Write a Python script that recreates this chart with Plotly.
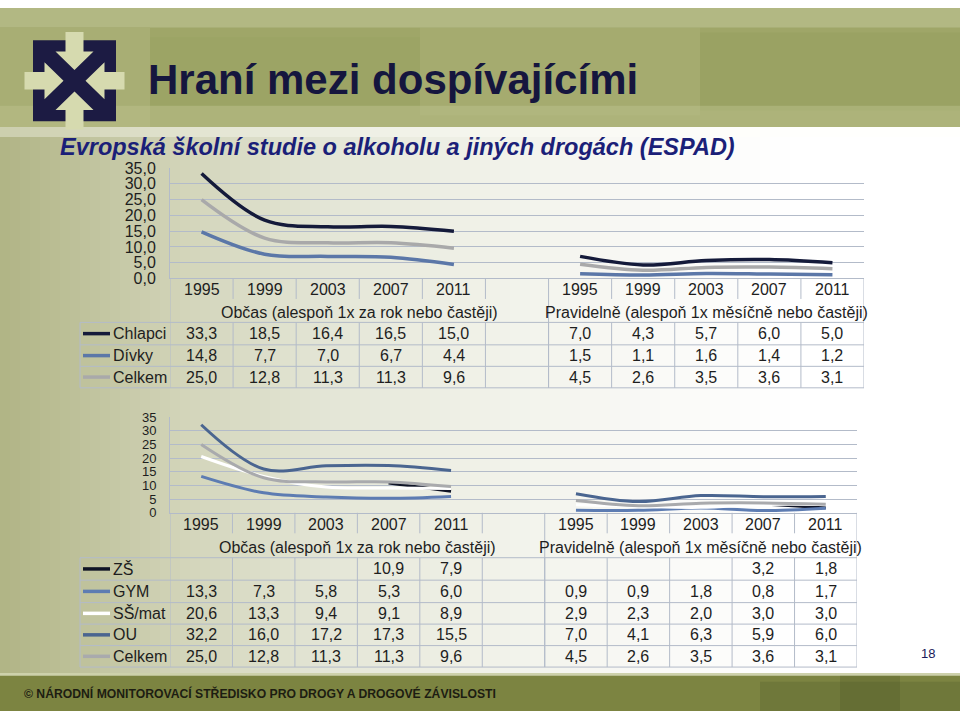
import plotly.graph_objects as go

# ---------------- data ----------------
years = ["1995", "1999", "2003", "2007", "2011"]
groups = ["Občas (alespoň 1x za rok nebo častěji)",
          "Pravidelně (alespoň 1x měsíčně nebo častěji)"]

top_names = ["Chlapci", "Dívky", "Celkem"]
chlapci_obcas = [33.3, 18.5, 16.4, 16.5, 15.0]
chlapci_prav = [7.0, 4.3, 5.7, 6.0, 5.0]
divky_obcas = [14.8, 7.7, 7.0, 6.7, 4.4]
divky_prav = [1.5, 1.1, 1.6, 1.4, 1.2]
celkem_obcas = [25.0, 12.8, 11.3, 11.3, 9.6]
celkem_prav = [4.5, 2.6, 3.5, 3.6, 3.1]

bottom_names = ["ZŠ", "GYM", "SŠ/mat", "OU", "Celkem"]
zs_obcas = [None, None, None, 10.9, 7.9]
zs_prav = [None, None, None, 3.2, 1.8]
gym_obcas = [13.3, 7.3, 5.8, 5.3, 6.0]
gym_prav = [0.9, 0.9, 1.8, 0.8, 1.7]
ssmat_obcas = [20.6, 13.3, 9.4, 9.1, 8.9]
ssmat_prav = [2.9, 2.3, 2.0, 3.0, 3.0]
ou_obcas = [32.2, 16.0, 17.2, 17.3, 15.5]
ou_prav = [7.0, 4.1, 6.3, 5.9, 6.0]
celkem2_obcas = [25.0, 12.8, 11.3, 11.3, 9.6]
celkem2_prav = [4.5, 2.6, 3.5, 3.6, 3.1]

title = "Hraní mezi dospívajícími"
subtitle = "Evropská školní studie o alkoholu a jiných drogách (ESPAD)"
footer = "© NÁRODNÍ MONITOROVACÍ STŘEDISKO PRO DROGY A DROGOVÉ ZÁVISLOSTI"
page_no = "18"

# ---------------- helpers / styles ----------------
W, H = 960, 720
FONT = "Liberation Sans, Arial, sans-serif"
TXT = "#1e1e1e"
GRID = "#b3bbc9"


def px(x):
    return x / W


def py(y):
    return 1 - y / H


cat_labels = years + [""] + years
xpos = list(range(len(cat_labels)))
gap_idx = len(years)


def fmt(v):
    return f"{v:.1f}".replace(".", ",")


def hexmix(c1, c2, t):
    a = [int(c1[i:i + 2], 16) for i in (1, 3, 5)]
    b = [int(c2[i:i + 2], 16) for i in (1, 3, 5)]
    return "#" + "".join(f"{round(a[i] + (b[i] - a[i]) * t):02x}" for i in range(3))


shapes = []
annotations = []


def rect(x0, y0, x1, y1, color, layer="below", line=None):
    shapes.append(dict(type="rect", xref="paper", yref="paper",
                       x0=px(x0), x1=px(x1), y0=py(y1), y1=py(y0),
                       fillcolor=color, line=dict(width=0) if line is None else line,
                       layer=layer))


# ---------------- background ----------------
stops = [(0, "#b0b485"), (80, "#bec19a"), (180, "#d2d4b9"), (320, "#e3e5d5"),
         (480, "#f0f1e8"), (650, "#f9f9f6"), (800, "#ffffff"), (960, "#ffffff")]


def grad(x):
    for (xa, ca), (xb, cb) in zip(stops[:-1], stops[1:]):
        if xa <= x <= xb:
            return hexmix(ca, cb, (x - xa) / (xb - xa) if xb > xa else 0)
    return stops[-1][1]


step = 10
for x in range(0, W, step):
    rect(x, 118, x + step, 684, grad(x + step / 2))
rect(0, 118, 960, 132, "rgba(255,255,250,0.35)")

# header band
rect(0, 0, 960, 122, "#9fa668")
rect(0, 0, 960, 20, "#b2b883")
rect(0, 20, 150, 122, "#a8ae74")
rect(150, 30, 420, 100, "rgba(150,158,95,0.3)")
rect(420, 20, 700, 110, "rgba(185,190,135,0.22)")
rect(700, 25, 960, 105, "rgba(140,150,85,0.25)")
rect(0, 100, 960, 122, "rgba(190,195,145,0.45)")

# footer band
rect(0, 681, 960, 720, "#7c8441")
rect(0, 681, 960, 684, "#cdd1ab")
rect(760, 690, 960, 720, "rgba(90,98,45,0.35)")
rect(840, 684, 900, 720, "rgba(70,78,35,0.25)")

# logo
NAVY = "#1c1b43"
CREAM = "#d6daaf"
rect(33, 33, 116, 116, NAVY)
cx, cy = 74.5, 74.5
arrow = [(-9, -50), (9, -50), (9, -30), (19, -30), (0, -11), (-19, -30), (-9, -30)]
for k in range(4):
    pts = []
    for (dx, dy) in arrow:
        for _ in range(k):
            dx, dy = -dy, dx
        pts.append((cx + dx, cy + dy))
    path = "M " + " L ".join(f"{px(a):.5f},{py(b):.5f}" for a, b in pts) + " Z"
    shapes.append(dict(type="path", xref="paper", yref="paper", path=path,
                       fillcolor=CREAM, line=dict(width=0), layer="below"))

# title texts
annotations.append(dict(text=f"<b>{title}</b>", x=px(146), y=py(73), xref="paper", yref="paper",
                        xanchor="left", yanchor="middle", showarrow=False,
                        font=dict(family=FONT, size=42, color="#15163e")))
annotations.append(dict(text=f"<b><i>{subtitle}</i></b>", x=px(58), y=py(142), xref="paper",
                        yref="paper", xanchor="left", yanchor="middle", showarrow=False,
                        font=dict(family=FONT, size=23.5, color="#1b1f78")))
annotations.append(dict(text=f"<b>{footer}</b>", x=px(22), y=py(702), xref="paper", yref="paper",
                        xanchor="left", yanchor="middle", showarrow=False,
                        font=dict(family=FONT, size=12.2, color="#1d1d12")))
annotations.append(dict(text=page_no, x=px(928), y=py(661), xref="paper", yref="paper",
                        xanchor="center", yanchor="middle", showarrow=False,
                        font=dict(family=FONT, size=13, color="#1a1a5a")))

fig = go.Figure()


# ---------------- chart builder ----------------
def build_chart(xa, ya, series, axis_y, label_y, grp_y, row_lines, right_px, lw):
    xref = "x" if xa == 1 else f"x{xa}"
    for name, obcas, prav, color in series:
        fig.add_trace(go.Scatter(
            x=xpos, y=list(obcas) + [None] + list(prav), mode="lines",
            line=dict(shape="spline", smoothing=1, color=color, width=lw),
            connectgaps=False, showlegend=False, hoverinfo="skip",
            xaxis=xref, yaxis="y" if ya == 1 else f"y{ya}", name=name))
    for i, lab in enumerate(cat_labels):
        if lab:
            annotations.append(dict(text=lab, x=i, y=py(label_y), xref=xref, yref="paper",
                                    xanchor="center", yanchor="middle", showarrow=False,
                                    font=dict(family=FONT, size=16, color=TXT)))
    g_centers = [(-0.5 + gap_idx + 0.5) / 2, (gap_idx + 0.5 + len(cat_labels) - 0.5) / 2]
    for g, c in zip(groups, g_centers):
        annotations.append(dict(text=g, x=c, y=py(grp_y), xref=xref, yref="paper",
                                xanchor="center", yanchor="middle", showarrow=False,
                                font=dict(family=FONT, size=16, color=TXT)))

    def vline(xv, y0, y1, ref=xref):
        shapes.append(dict(type="line", xref=ref, yref="paper", x0=xv, x1=xv,
                           y0=py(y0), y1=py(y1), line=dict(color=GRID, width=1), layer="above"))

    tbl_bottom = row_lines[-1]
    n = len(cat_labels)
    for k in range(n - 1):
        if k == gap_idx:
            continue
        vline(k + 0.5, axis_y, axis_y + 21)
    vline(gap_idx + 0.5, axis_y, tbl_bottom)
    vline(-0.5, axis_y, tbl_bottom)
    vline(n - 0.5, axis_y, tbl_bottom)
    for k in range(n - 1):
        vline(k + 0.5, row_lines[0], tbl_bottom)
    vline(px(80), row_lines[0], tbl_bottom, ref="paper")
    for yl in row_lines:
        shapes.append(dict(type="line", xref="paper", yref="paper", x0=px(80), x1=px(right_px),
                           y0=py(yl), y1=py(yl), line=dict(color=GRID, width=1), layer="above"))
    for r, (name, obcas, prav, color) in enumerate(series):
        yc = (row_lines[r] + row_lines[r + 1]) / 2
        shapes.append(dict(type="line", xref="paper", yref="paper", x0=px(83), x1=px(110),
                           y0=py(yc), y1=py(yc), line=dict(color=color, width=3.5), layer="above"))
        annotations.append(dict(text=name, x=px(111), y=py(yc), xref="paper", yref="paper",
                                xanchor="left", yanchor="middle", showarrow=False,
                                font=dict(family=FONT, size=16, color=TXT)))
        vals = list(obcas) + [None] + list(prav)
        for i, v in enumerate(vals):
            if v is None:
                continue
            annotations.append(dict(text=fmt(v), x=i, y=py(yc), xref=xref, yref="paper",
                                    xanchor="center", yanchor="middle", showarrow=False,
                                    font=dict(family=FONT, size=16, color=TXT)))


top_series = [
    (top_names[0], chlapci_obcas, chlapci_prav, "#141a3a"),
    (top_names[1], divky_obcas, divky_prav, "#5b77a8"),
    (top_names[2], celkem_obcas, celkem_prav, "#a9a9aa"),
]
bottom_series = [
    (bottom_names[0], zs_obcas, zs_prav, "#0f1426"),
    (bottom_names[1], gym_obcas, gym_prav, "#5d7cb2"),
    (bottom_names[2], ssmat_obcas, ssmat_prav, "#ffffff"),
    (bottom_names[3], ou_obcas, ou_prav, "#4a6590"),
    (bottom_names[4], celkem2_obcas, celkem2_prav, "#a9aaad"),
]

build_chart(1, 1, top_series, 277, 288.5, 312, [322, 345, 367, 389], 864, 3.5)
build_chart(2, 2, bottom_series, 517, 529, 553, [563, 586, 609, 631, 653, 675], 857, 3)

axis_common = dict(showgrid=False, zeroline=False, showticklabels=False, fixedrange=True,
                   range=[-0.5, len(cat_labels) - 0.5], showline=True, linecolor=GRID, linewidth=1)
yaxis_common = dict(range=[0, 35], dtick=5, tick0=0, showgrid=True, gridcolor=GRID, gridwidth=1,
                    zeroline=False, showline=True, linecolor=GRID, linewidth=1,
                    ticks="outside", ticklen=10, tickcolor="rgba(0,0,0,0)")

fig.update_layout(
    width=W, height=H, margin=dict(l=0, r=0, t=0, b=0),
    paper_bgcolor="#ffffff", plot_bgcolor="rgba(0,0,0,0)",
    separators=", ",
    font=dict(family=FONT, color=TXT),
    xaxis=dict(domain=[px(170), px(864)], anchor="y", **axis_common),
    yaxis=dict(domain=[py(277), py(164)], anchor="x", tickformat=".1f",
               tickfont=dict(size=16, color=TXT, family=FONT), **yaxis_common),
    xaxis2=dict(domain=[px(170), px(857)], anchor="y2", **axis_common),
    yaxis2=dict(domain=[py(517), py(419)], anchor="x2", tickformat="d",
                tickfont=dict(size=13, color=TXT, family=FONT), **yaxis_common),
    shapes=shapes, annotations=annotations,
)

fig.write_html("out.html")
